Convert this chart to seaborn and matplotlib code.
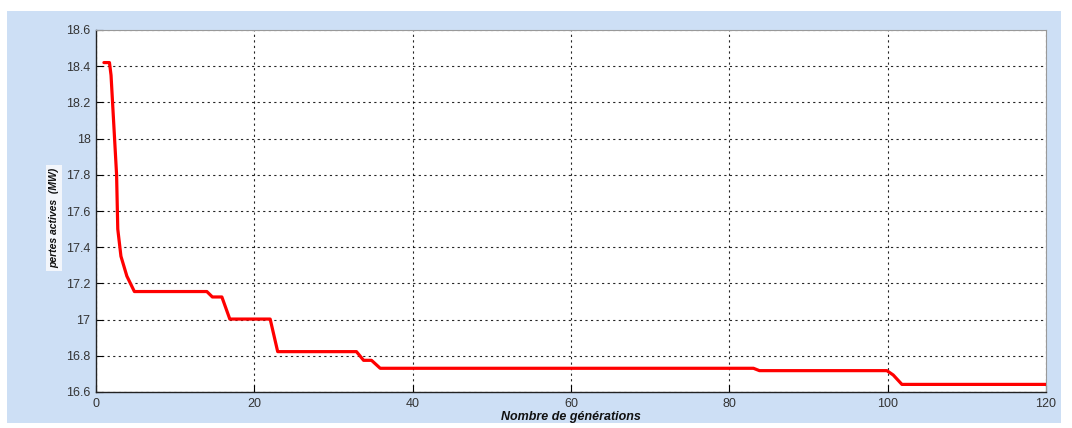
import matplotlib
matplotlib.use("Agg")
import matplotlib.pyplot as plt
from matplotlib.patches import Rectangle
import numpy as np
import pandas as pd
import seaborn as sns

# Convergence of the best individual: active losses per generation
generations = [1.0, 1.7, 1.9, 2.6, 2.75, 3.15, 3.9, 4.85, 14.0, 14.7, 15.9, 16.9,
               22.0, 22.95, 32.9, 33.8, 34.8, 35.9, 83.05, 83.8, 99.9, 100.7,
               101.8, 120.0]
pertes = [18.42, 18.42, 18.35, 17.80, 17.50, 17.35, 17.24, 17.155, 17.155, 17.125,
          17.125, 17.003, 17.003, 16.823, 16.823, 16.775, 16.775, 16.731, 16.731,
          16.718, 16.718, 16.694, 16.642, 16.642]

x_ticks = [0, 20, 40, 60, 80, 100, 120]
y_ticks = [16.6, 16.8, 17.0, 17.2, 17.4, 17.6, 17.8, 18.0, 18.2, 18.4, 18.6]
y_labels = ["16.6", "16.8", "17", "17.2", "17.4", "17.6", "17.8", "18", "18.2",
            "18.4", "18.6"]

df = pd.DataFrame({"gen": generations, "pertes": pertes})

sns.set_theme(style="white")
plt.rcParams["font.family"] = ["Liberation Sans", "DejaVu Sans"]

W, H = 1072, 428
fig = plt.figure(figsize=(W / 100, H / 100), dpi=100)
fig.patch.set_facecolor("white")
# light blue frame around the plotting area
fig.add_artist(Rectangle((7 / W, 5 / H), 1054 / W, 412 / H,
                         transform=fig.transFigure, facecolor="#cddff5",
                         edgecolor="none", zorder=0))

ax = fig.add_axes([96 / W, 1 - 392 / H, 950 / W, 362 / H])
ax.set_facecolor("white")

sns.lineplot(data=df, x="gen", y="pertes", ax=ax, color="#ff0000",
             linewidth=2.3, estimator=None, sort=False, zorder=3)

ax.set_xlim(0, 120)
ax.set_ylim(16.6, 18.6)
ax.set_xticks(x_ticks)
ax.set_xticklabels([str(v) for v in x_ticks])
ax.set_yticks(y_ticks)
ax.set_yticklabels(y_labels)

ax.grid(True, color="black", linestyle=(0, (2, 3)), linewidth=0.8, alpha=0.85)
ax.tick_params(axis="both", direction="in", length=5, width=0.8, color="black",
               labelsize=9, labelcolor="#333333", pad=4, bottom=True, left=True)

for side in ("left", "bottom"):
    ax.spines[side].set_color("#222222")
    ax.spines[side].set_linewidth(1.0)
for side in ("top", "right"):
    ax.spines[side].set_color("#999999")
    ax.spines[side].set_linewidth(0.8)

ax.set_xlabel("Nombre de générations", fontsize=9, fontstyle="italic",
              fontweight="bold", color="#111111", labelpad=1)
ax.set_ylabel("")

fig.text(54 / W, 1 - 218 / H, "pertes actives  (MW)", rotation=90, ha="center",
         va="center", fontsize=7.5, fontstyle="italic", fontweight="bold",
         color="#111111",
         bbox=dict(boxstyle="square,pad=0.3", facecolor="#f3f6fb",
                   edgecolor="none"))

fig.savefig("out.png", dpi=100)
